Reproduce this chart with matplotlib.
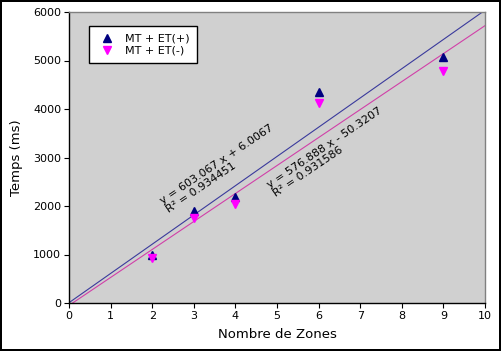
import numpy as np
import matplotlib.pyplot as plt

# données
zones = [2, 3, 4, 6, 9]
temps_plus = [990, 1900, 2190, 4360, 5063]
temps_moins = [925, 1755, 2045, 4130, 4790]

fit_plus = (603.067, 6.0067, 0.934451)
fit_moins = (576.888, -50.3207, 0.931586)

plt.rcParams['font.family'] = 'DejaVu Sans'

fig = plt.figure(figsize=(5.01, 3.51), dpi=100)
fig.patch.set_facecolor('white')
fig.patch.set_edgecolor('black')
fig.patch.set_linewidth(1.5)

ax = fig.add_axes([69 / 501, 1 - 303 / 351, 416 / 501, 291 / 351])
ax.set_facecolor('#d0d0d0')

ax.plot(zones, temps_plus, linestyle='none', marker='^', ms=6,
        color='#000080', label='MT + ET(+)', zorder=3)
ax.plot(zones, temps_moins, linestyle='none', marker='v', ms=6,
        color='#ff00ff', label='MT + ET(-)', zorder=3)

# courbes de tendance
xx = np.array([0, 10])
ax.plot(xx, fit_plus[0] * xx + fit_plus[1], color='#3a3a9c', lw=0.8, zorder=2)
ax.plot(xx, fit_moins[0] * xx + fit_moins[1], color='#d040a8', lw=0.8, zorder=2)

ax.text(2.42, 1820, "y = %.3f x + %.4f\nR² = %.6f" % fit_plus,
        rotation=34, rotation_mode='anchor', ha='left', va='bottom',
        fontsize=8, linespacing=1.05)
ax.text(5.0, 2150, "y = %.3f x - %.4f\nR² = %.6f" % (fit_moins[0], -fit_moins[1], fit_moins[2]),
        rotation=34, rotation_mode='anchor', ha='left', va='bottom',
        fontsize=8, linespacing=1.05)

ax.set_xlim(0, 10)
ax.set_ylim(0, 6000)
ax.set_xticks(range(0, 11))
ax.set_yticks(range(0, 6001, 1000))
ax.tick_params(direction='out', length=3.6, width=0.8, pad=2, labelsize=8)

for s in ['left', 'bottom']:
    ax.spines[s].set_color('black')
    ax.spines[s].set_linewidth(1)
for s in ['top', 'right']:
    ax.spines[s].set_color('#808080')
    ax.spines[s].set_linewidth(1)

ax.set_xlabel('Nombre de Zones', fontsize=9.5, labelpad=5)
ax.set_ylabel('Temps (ms)', fontsize=9.5, labelpad=7)

leg = ax.legend(loc='upper left', bbox_to_anchor=(0.048, 0.952), borderaxespad=0,
                fontsize=8, fancybox=False, edgecolor='black', framealpha=1,
                handletextpad=0.7, labelspacing=0.15, borderpad=0.7,
                handlelength=1.8)
leg.get_frame().set_linewidth(1)

fig.savefig('out.png', dpi=100)
